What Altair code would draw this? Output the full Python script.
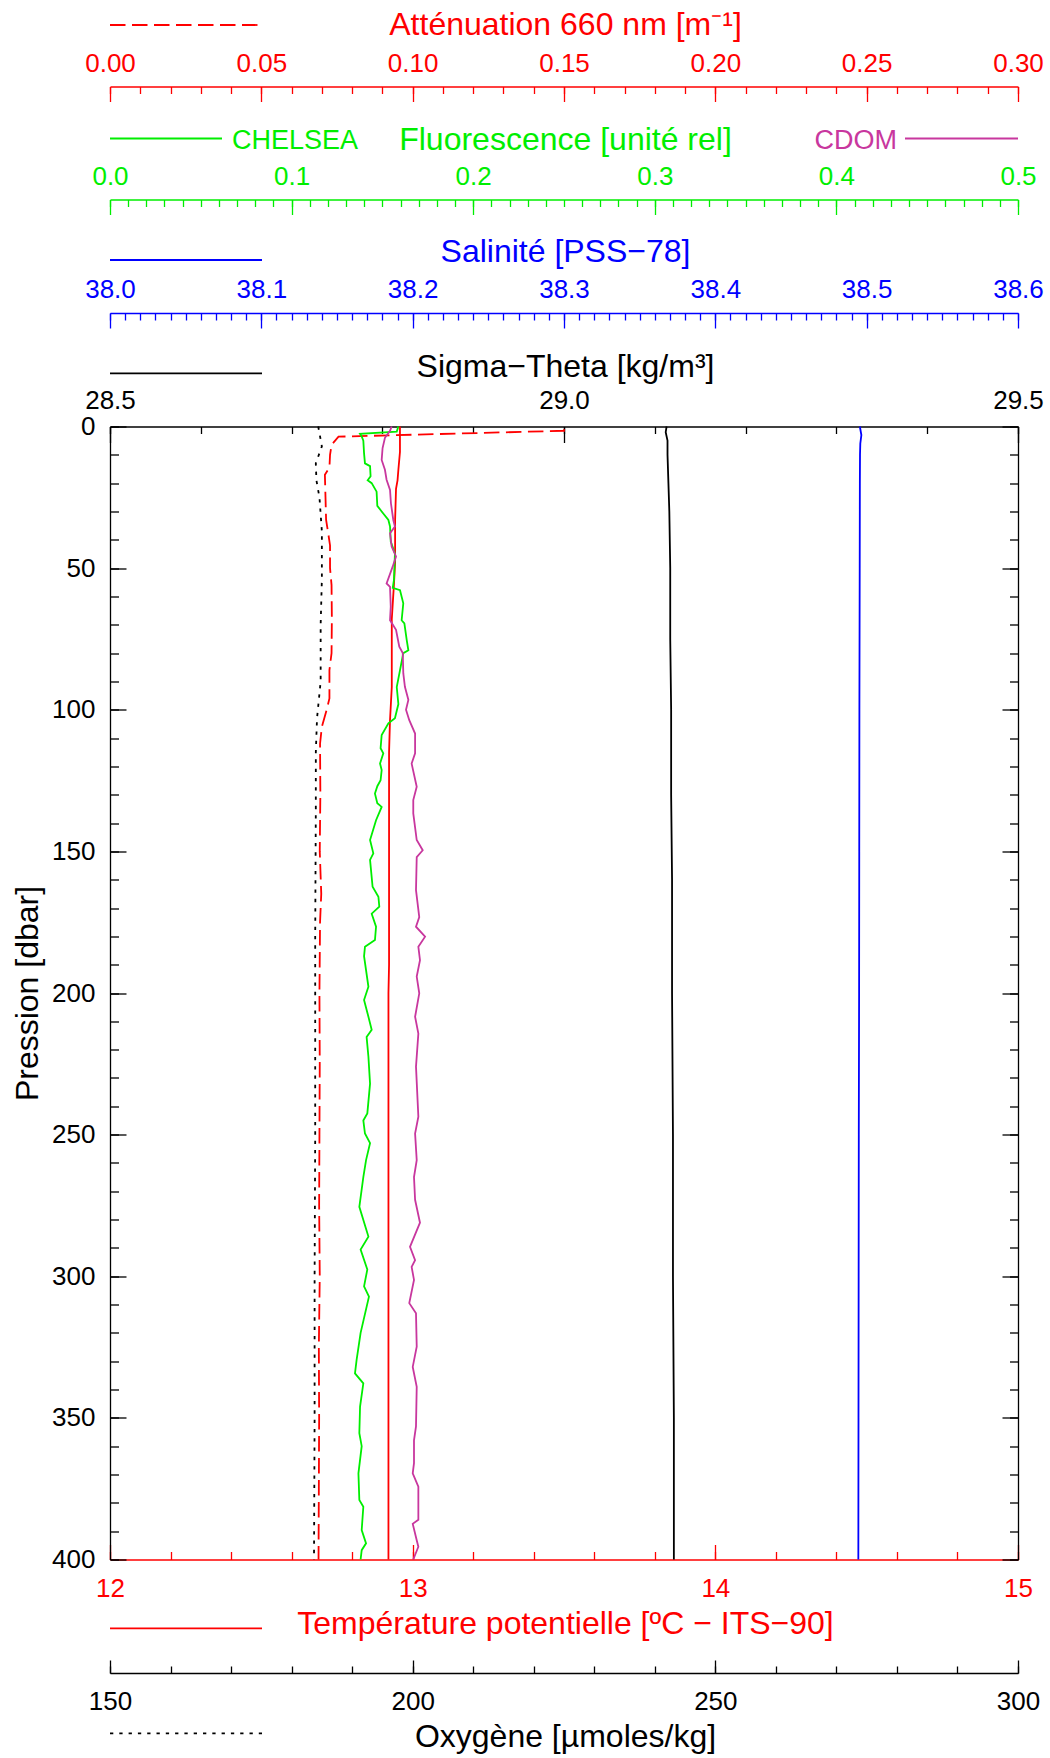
import altair as alt
import pandas as pd

# ------------------------------------------------------------------ data
# Sigma-Theta [kg/m3]
sigma_p = [0, 2, 5, 10, 20, 30, 50, 75, 100, 130, 160, 200, 250, 300, 350, 400]
sigma_v = [29.113, 29.112, 29.114, 29.114, 29.115, 29.116, 29.117, 29.117, 29.118,
           29.118, 29.119, 29.119, 29.120, 29.120, 29.121, 29.121]

# Salinity [PSS-78]
sal_p = [0, 3, 6, 10, 20, 50, 100, 150, 200, 250, 300, 350, 400]
sal_v = [38.4955, 38.4965, 38.4958, 38.4956, 38.4955, 38.4954, 38.4952, 38.4951,
         38.4950, 38.4948, 38.4947, 38.4946, 38.4945]

# Potential temperature [degC]
temp_p = [0, 9, 15, 19, 22, 33, 48, 56, 68, 92, 104, 115, 190, 200, 400]
temp_v = [12.958, 12.958, 12.953, 12.950, 12.945, 12.942, 12.942, 12.938, 12.931,
          12.931, 12.925, 12.922, 12.922, 12.920, 12.920]

# Attenuation 660 nm [1/m]
att_p = [1.0, 1.5, 3.6, 6.5, 10, 14.5, 17, 25, 33, 37, 42, 50, 56, 68, 80, 86, 96,
         100, 106, 112, 130, 150, 165, 175, 200, 225, 250, 275, 300, 325, 350, 375, 400]
att_v = [0.1500, 0.1500, 0.0755, 0.0732, 0.0727, 0.0725, 0.0710, 0.0712, 0.0714,
         0.0720, 0.0727, 0.0727, 0.0732, 0.0733, 0.0732, 0.0725, 0.0725, 0.0716,
         0.0700, 0.0694, 0.0695, 0.0693, 0.0698, 0.0694, 0.0692, 0.0693, 0.0692,
         0.0691, 0.0693, 0.0690, 0.0691, 0.0690, 0.0689]

# Oxygen [umol/kg]
ox_p = [0, 7, 13, 19, 25, 37, 54, 70, 90, 103, 115, 135, 180, 250, 300, 350, 400]
ox_v = [184.4, 185.0, 184.0, 184.1, 184.6, 185.0, 185.0, 184.8, 184.8, 184.2, 184.0,
        184.0, 183.9, 183.9, 183.8, 183.8, 183.7]

# Fluorescence CHELSEA [rel]
chl_p = [0, 1.8, 2.6, 3.5, 5, 9.5, 13, 14, 17.6, 19, 20, 23, 28, 30, 33, 35.3, 40.6,
         44.8, 54, 57, 57.8, 62.4, 68.4, 69.5, 75.4, 79, 80, 86, 92, 98, 103, 104.8,
         108.9, 113.6, 115.4, 119, 121.3, 124.9, 127, 129.6, 133, 134.3, 139, 146,
         150.7, 153, 162.5, 166, 169.5, 172, 176.6, 181.3, 183.7, 187, 197.8, 202.5,
         208.4, 213, 215.5, 222.5, 232, 242.5, 245, 249.6, 253, 259, 265, 275.5, 286,
         290.6, 297.6, 303.6, 307.2, 320, 329.5, 334.3, 337.8, 346, 355.4, 360, 369.6,
         379, 381.4, 389.6, 394.3, 396.7, 400]
chl_v = [0.1588, 0.1579, 0.1377, 0.1386, 0.1395, 0.1399, 0.1404, 0.1432, 0.1435,
         0.1419, 0.1441, 0.1468, 0.1472, 0.1496, 0.1533, 0.1542, 0.1546, 0.1569,
         0.1564, 0.1557, 0.1597, 0.1615, 0.1606, 0.1621, 0.1634, 0.1643, 0.1615,
         0.1597, 0.1579, 0.1588, 0.1569, 0.1533, 0.1496, 0.1490, 0.1505, 0.1487,
         0.1496, 0.1490, 0.1472, 0.1459, 0.1472, 0.1496, 0.1465, 0.1432, 0.1450,
         0.1432, 0.1446, 0.1478, 0.1483, 0.1441, 0.1465, 0.1459, 0.1404, 0.1399,
         0.1423, 0.1399, 0.1423, 0.1441, 0.1413, 0.1423, 0.1432, 0.1417, 0.1395,
         0.1404, 0.1432, 0.1410, 0.1395, 0.1373, 0.1423, 0.1380, 0.1417, 0.1399,
         0.1426, 0.1380, 0.1358, 0.1349, 0.1395, 0.1377, 0.1373, 0.1386, 0.1368,
         0.1373, 0.1395, 0.1386, 0.1410, 0.1386, 0.1380]

# Fluorescence CDOM [rel]
cdom_p = [0, 1.5, 4, 7.6, 11.8, 15.3, 18.8, 22.4, 27.1, 33, 35.3, 37.7, 42.4, 45.9,
          49.4, 55.4, 56.6, 63.6, 68.4, 71.8, 77.7, 80, 87.1, 91.9, 96.5, 100, 103.7,
          108.4, 115.4, 119, 127.2, 131.9, 136.6, 146, 149.6, 152, 163.7, 173.2, 176.6,
          180.1, 183.7, 188.4, 194.2, 200.1, 208.4, 214.3, 226, 243.7, 249.6, 259, 265,
          273, 281.1, 289.6, 294.3, 296.7, 301.3, 309.5, 313.1, 324.9, 332, 339, 353,
          357.9, 366, 369.6, 374.3, 386, 387.4, 393.2, 395.5, 400]
cdom_v = [0.1551, 0.1542, 0.1514, 0.1501, 0.1496, 0.1514, 0.1523, 0.1542, 0.1547,
          0.1560, 0.1569, 0.1542, 0.1551, 0.1575, 0.1557, 0.1523, 0.1542, 0.1546,
          0.1542, 0.1575, 0.1593, 0.1612, 0.1615, 0.1624, 0.1643, 0.1630, 0.1648,
          0.1680, 0.1680, 0.1661, 0.1689, 0.1670, 0.1670, 0.1689, 0.1722, 0.1689,
          0.1685, 0.1703, 0.1685, 0.1735, 0.1698, 0.1707, 0.1689, 0.1703, 0.1680,
          0.1698, 0.1685, 0.1698, 0.1680, 0.1689, 0.1674, 0.1680, 0.1707, 0.1652,
          0.1680, 0.1661, 0.1674, 0.1648, 0.1685, 0.1689, 0.1667, 0.1689, 0.1685,
          0.1674, 0.1674, 0.1667, 0.1698, 0.1698, 0.1667, 0.1689, 0.1698, 0.1670]

# axis tick values
p_major = list(range(0, 401, 50))
p_minor = list(range(0, 401, 10))
sig_major = [28.5, 29.0, 29.5]
sig_minor = [round(28.5 + 0.1 * i, 2) for i in range(11)]
sal_major = [round(38.0 + 0.1 * i, 2) for i in range(7)]
sal_minor = [round(38.0 + 0.01 * i, 3) for i in range(61)]
flu_major = [round(0.1 * i, 2) for i in range(6)]
flu_minor = [round(0.01 * i, 3) for i in range(51)]
att_major = [round(0.05 * i, 3) for i in range(7)]
att_minor = [round(0.01 * i, 3) for i in range(31)]
tem_major = [12, 13, 14, 15]
tem_minor = [round(12 + 0.2 * i, 2) for i in range(16)]
oxy_major = [150, 200, 250, 300]
oxy_minor = list(range(150, 301, 10))

# ------------------------------------------------------------------ style
FONT = "Liberation Sans"
RED, GREEN, BLUE, BLACK, PURPLE = "#ff0000", "#00ee00", "#0000ff", "#000000", "#c8379e"
W, H = 908, 1133
LW = 1.8
DASH = [15.5, 6.5]
DOT = [3.3, 6]


def ex(v):
    return alt.ExprRef(expr=str(v))


def xaxis(orient, offset, values, tick, color, labels=False, fmt=None, title=None,
          title_y=None, label_pad=0, domain=False):
    kw = dict(orient=orient, offset=offset, values=values, grid=False,
              tickSize=ex(-tick), tickColor=color, tickWidth=1.3,
              domain=domain, labels=labels)
    if domain:
        kw.update(domainColor=color, domainWidth=1.3)
    if labels:
        kw.update(format=fmt, labelColor=color, labelFont=FONT, labelFontSize=26,
                  labelPadding=label_pad, labelFlush=False, labelOverlap=False,
                  labelBaseline="alphabetic")
    if title:
        kw.update(title=title, titleColor=color, titleFont=FONT, titleFontSize=32,
                  titleFontWeight="normal", titleX=455, titleY=title_y,
                  titleAlign="center", titleBaseline="alphabetic")
    return alt.Axis(**kw)


def yaxis(orient, values, tick, labels=False, domain=False, title=None):
    kw = dict(orient=orient, values=values, grid=False, tickSize=ex(-tick),
              tickColor=BLACK, tickWidth=1.3, domain=domain, labels=labels)
    if domain:
        kw.update(domainColor=BLACK, domainWidth=1.3)
    if labels:
        kw.update(format="d", labelColor=BLACK, labelFont=FONT, labelFontSize=26,
                  labelPadding=31, labelFlush=False, labelOverlap=False)
    if title:
        kw.update(title=title, titleColor=BLACK, titleFont=FONT, titleFontSize=32,
                  titleFontWeight="normal", titleX=-72.7, titleY=566.5, titleAngle=270,
                  titleAlign="center", titleBaseline="alphabetic")
    return alt.Axis(**kw)


yscale = alt.Scale(domain=[0, 400], reverse=True, nice=False, zero=False)


def layer(df, dom, xax, yax=None, color=BLACK, dash=None, visible=True, colorenc=None):
    mk = dict(strokeWidth=LW, color=color)
    if dash:
        mk["strokeDash"] = dash
    if not visible:
        mk["strokeOpacity"] = 0
    enc = dict(
        x=alt.X("v:Q", scale=alt.Scale(domain=dom, nice=False, zero=False), axis=xax,
                title=None),
        y=alt.Y("p:Q", scale=yscale, axis=yax, title=None),
        order="p:Q",
    )
    if colorenc is not None:
        enc["color"] = colorenc
        enc["detail"] = "s:N"
    return alt.Chart(df).mark_line(**mk).encode(**enc)


df_sig = pd.DataFrame({"p": sigma_p, "v": sigma_v})
df_sal = pd.DataFrame({"p": sal_p, "v": sal_v})
df_tem = pd.DataFrame({"p": temp_p, "v": temp_v})
df_att = pd.DataFrame({"p": att_p, "v": att_v})
df_oxy = pd.DataFrame({"p": ox_p, "v": ox_v})
df_flu = pd.concat([
    pd.DataFrame({"p": chl_p, "v": chl_v, "s": "CHELSEA"}),
    pd.DataFrame({"p": cdom_p, "v": cdom_v, "s": "CDOM"}),
])

flu_color = alt.Color("s:N", legend=None,
                      scale=alt.Scale(domain=["CHELSEA", "CDOM"], range=[GREEN, PURPLE]))

layers = []
# minor-tick axes (invisible copies of the lines)
layers.append(layer(df_sig, [28.5, 29.5],
                    xaxis("top", 0, sig_minor, 7, BLACK),
                    yaxis("left", p_minor, 8.5), visible=False))
layers.append(layer(df_sal, [38.0, 38.6],
                    xaxis("top", 113.5, sal_minor, 7, BLUE),
                    yaxis("right", p_minor, 8.5), visible=False))
layers.append(layer(df_flu, [0, 0.5], xaxis("top", 227, flu_minor, 7, GREEN),
                    visible=False, colorenc=flu_color))
layers.append(layer(df_att, [0, 0.3], xaxis("top", 340, att_minor, 7, RED), visible=False))
layers.append(layer(df_tem, [12, 15], xaxis("bottom", 0, tem_minor, 8, RED), visible=False))
layers.append(layer(df_oxy, [150, 300], xaxis("bottom", 113.5, oxy_minor, 7, BLACK),
                    visible=False))

# data lines with major axes
layers.append(layer(df_oxy, [150, 300],
                    xaxis("bottom", 113.5, oxy_major, 13, BLACK, labels=True, fmt="d",
                          title="Oxygène [µmoles/kg]", title_y=73.4, label_pad=49,
                          domain=True), dash=DOT, color=BLACK))
layers.append(layer(df_att, [0, 0.3],
                    xaxis("top", 340, att_major, 15, RED, labels=True, fmt=".2f",
                          title="Atténuation 660 nm [m⁻¹]", title_y=-51.7, label_pad=30,
                          domain=True), dash=DASH, color=RED))
layers.append(layer(df_tem, [12, 15],
                    xaxis("bottom", 0, tem_major, 15, RED, labels=True, fmt="d",
                          title="Température potentielle [ºC − ITS−90]", title_y=73.8,
                          label_pad=51.5, domain=True), color=RED))
layers.append(layer(df_flu, [0, 0.5],
                    xaxis("top", 227, flu_major, 15, GREEN, labels=True, fmt=".1f",
                          title="Fluorescence [unité rel]", title_y=-50, label_pad=30.3,
                          domain=True),
                    colorenc=flu_color))
layers.append(layer(df_sig, [28.5, 29.5],
                    xaxis("top", 0, sig_major, 16, BLACK, labels=True, fmt=".1f",
                          title="Sigma−Theta [kg/m³]", title_y=-50.5, label_pad=34.5,
                          domain=True),
                    yaxis("left", p_major, 16, labels=True, domain=True,
                          title="Pression [dbar]"), color=BLACK))
layers.append(layer(df_sal, [38.0, 38.6],
                    xaxis("top", 113.5, sal_major, 15, BLUE, labels=True, fmt=".1f",
                          title="Salinité [PSS−78]", title_y=-51.3, label_pad=30.7,
                          domain=True),
                    yaxis("right", p_major, 16, domain=True), color=BLUE))

# legend samples (decoration)
one = pd.DataFrame({"k": [0]})


def rule(x1, x2, y, color, dash=None):
    mk = dict(color=color, strokeWidth=LW)
    if dash:
        mk["strokeDash"] = dash
    return alt.Chart(one).mark_rule(**mk).encode(
        x=alt.value(x1), x2=alt.value(x2), y=alt.value(y))


layers += [
    rule(0, 152, -401.5, RED, DASH),
    rule(0, 112, -288, GREEN),
    rule(795, 908, -288, PURPLE),
    rule(0, 152, -166.5, BLUE),
    rule(0, 152, -53.2, BLACK),
    rule(0, 152, 1201.8, RED),
    rule(0, 152, 1306.8, BLACK, DOT),
    alt.Chart(one).mark_text(text="CHELSEA", align="left", baseline="alphabetic",
                             font=FONT, fontSize=27, color=GREEN).encode(
        x=alt.value(122), y=alt.value(-277.2)),
    alt.Chart(one).mark_text(text="CDOM", align="right", baseline="alphabetic",
                             font=FONT, fontSize=27, color=PURPLE).encode(
        x=alt.value(787), y=alt.value(-277.2)),
]

chart = (
    alt.layer(*layers)
    .resolve_scale(x="independent", y="independent")
    .resolve_axis(x="independent", y="independent")
    .properties(
        width=W, height=H,
        autosize=alt.AutoSizeParams(type="none"),
        padding={"left": 110, "top": 426.5, "right": 32, "bottom": 198.5},
        background="white",
    )
    .configure_view(stroke=None)
)

chart.save("out.html", embed_options={"renderer": "svg", "actions": False})
